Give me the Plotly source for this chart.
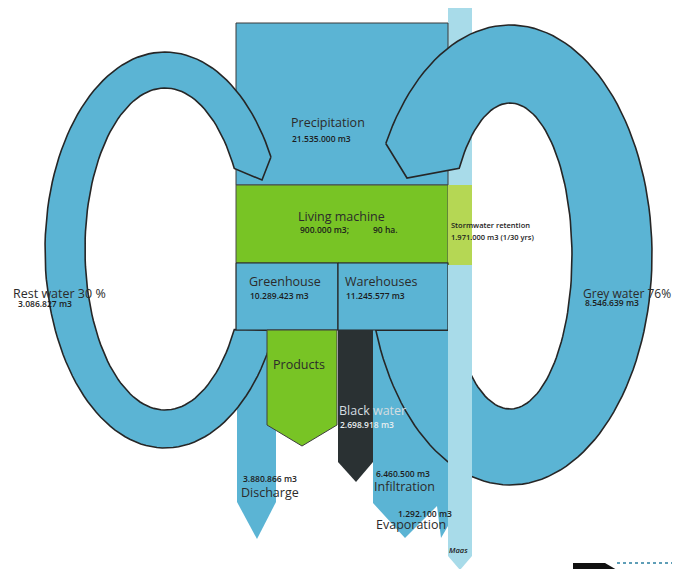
import numpy as np
import plotly.graph_objects as go

# --- data (m3 per year) ---
flow_labels = ["Precipitation", "Greenhouse", "Warehouses", "Rest water", "Grey water",
               "Black water", "Discharge", "Infiltration", "Evaporation"]
flow_volumes = [21535000, 10289423, 11245577, 3086827, 8546639,
                2698918, 3880866, 6460500, 1292100]
reuse_labels = ["Rest water", "Grey water"]
reuse_pct = ["30 %", "76%"]
living_machine_m3 = 900000
living_machine_ha = 90
stormwater_m3 = 1971000
stormwater_period = "1/30 yrs"

vol = dict(zip(flow_labels, flow_volumes))


def m3(v):
    return f"{v:,}".replace(",", ".") + " m3"


# --- colours ---
BLUE = "#5bb4d4"
LIGHT = "#a8dbe9"
GREEN = "#78c425"
LGREEN = "#b5d754"
DARK = "#2a3133"
EDGE = "#262626"
TXT = "#2b2b2b"

fig = go.Figure()


def poly(xs, ys, fill, line=None, width=1.0):
    xs = list(xs) + [xs[0]]
    ys = list(ys) + [ys[0]]
    fig.add_trace(go.Scatter(
        x=xs, y=ys, mode="lines", fill="toself", fillcolor=fill,
        line=dict(color=line if line else fill, width=width if line else 0),
        hoverinfo="skip"))


def arc(cx, cy, a, b, t0, t1, n=120):
    t = np.radians(np.linspace(t0, t1, n))
    return list(cx + a * np.cos(t)), list(cy - b * np.sin(t))


def rect(x0, y0, x1, y1, fill, line=None, width=1.0):
    poly([x0, x1, x1, x0], [y0, y0, y1, y1], fill, line, width)


# Maas, upper part (behind the grey water loop)
rect(448, -5, 472, 185, LIGHT)

# outflow columns
poly([237, 276, 276, 257, 237], [330, 330, 502, 539, 502], BLUE)
poly([373, 448, 448, 441, 437, 405, 373], [330, 330, 526, 538, 506, 538, 503], BLUE)

# precipitation
rect(236, 23, 448, 185, BLUE, "#3a3a3a", 1)

# rest water loop
ox, oy = arc(165, 250, 120, 198, 28, 336)
ix, iy = arc(165, 249, 80, 161, 330, 30)
poly(ox + ix + [262], oy + iy + [180], BLUE, EDGE, 1.6)

# grey water loop
ox, oy = arc(510, 255, 142, 230, 151, -161)
ix, iy = arc(510, 256, 62, 153, -151, 145)
poly(ox + ix + [407], oy + iy + [178], BLUE, EDGE, 1.6)

# living machine / stormwater / buildings
rect(236, 185, 448, 263, GREEN, "#4a4a4a", 1)
rect(448, 185, 472, 265, LGREEN)
rect(236, 263, 338, 330, BLUE, EDGE, 1.2)
rect(338, 263, 448, 330, BLUE, EDGE, 1.2)

# products and black water
poly([267, 337, 337, 302, 267], [330, 330, 425, 446, 425], GREEN, "#3f3f3f", 1)
poly([338, 373, 373, 356, 338], [330, 330, 462, 482, 462], DARK)

# Maas, lower part
poly([448, 472, 472, 460, 448], [265, 265, 556, 570, 556], LIGHT)

# small legend mark bottom right
poly([573, 605, 617, 573], [563, 563, 570, 570], "#111111")
fig.add_trace(go.Scatter(x=[617, 680], y=[563, 563], mode="lines",
                         line=dict(color="#2a7fa0", width=1.5, dash="dot"),
                         hoverinfo="skip"))

FONT = "Open Sans"


def label(x, y, text, size=12.5, color=TXT, weight=400, italic=False):
    if italic:
        text = f"<i>{text}</i>"
    fig.add_annotation(x=x, y=y, text=text, showarrow=False, xanchor="left",
                       yanchor="middle",
                       font=dict(family=FONT, size=size, color=color, weight=weight))


SMALL = 8.5
NUM = "#1c1c1c"
label(289, 122, "Precipitation")
label(290, 138, m3(vol["Precipitation"]), SMALL, NUM, 600)
label(296, 216, "Living machine")
label(298, 229, m3(living_machine_m3) + ";", SMALL, NUM, 600)
label(371, 229, f"{living_machine_ha} ha.", SMALL, NUM, 600)
label(449, 225, "Stormwater retention", 7.5, NUM, 600)
label(449, 237, f"{m3(stormwater_m3)} ({stormwater_period})", 7.5, NUM, 600)
label(247, 281, "Greenhouse")
label(248, 295, m3(vol["Greenhouse"]), SMALL, NUM, 600)
label(343, 281, "Warehouses")
label(344, 295, m3(vol["Warehouses"]), SMALL, NUM, 600)
label(11, 293, f"{reuse_labels[0]} {reuse_pct[0]}")
label(16, 303, m3(vol["Rest water"]), SMALL, NUM, 600)
label(581, 293, f"{reuse_labels[1]} {reuse_pct[1]}", 12)
label(583, 302, m3(vol["Grey water"]), SMALL, NUM, 600)
label(271, 364, "Products")
label(337, 410, "Black water", color="#d4dde0")
label(338, 424, m3(vol["Black water"]), SMALL, "#e8eef0", 600)
label(241, 478, m3(vol["Discharge"]), SMALL, NUM, 600)
label(239, 492, "Discharge")
label(374, 473, m3(vol["Infiltration"]), SMALL, NUM, 600)
label(372, 486, "Infiltration")
label(396, 513, m3(vol["Evaporation"]), SMALL, NUM, 600)
label(374, 524, "Evaporation")
label(447, 550, "Maas", 7.5, NUM, 600, italic=True)

# the page body adds an 8px margin, so the axes start at pixel 8
fig.update_layout(
    width=672, height=561,
    margin=dict(l=0, r=0, t=0, b=0),
    showlegend=False,
    plot_bgcolor="white", paper_bgcolor="white",
    xaxis=dict(range=[8, 680], visible=False, fixedrange=True),
    yaxis=dict(range=[569, 8], visible=False, fixedrange=True),
)

fig.write_html("out.html")
